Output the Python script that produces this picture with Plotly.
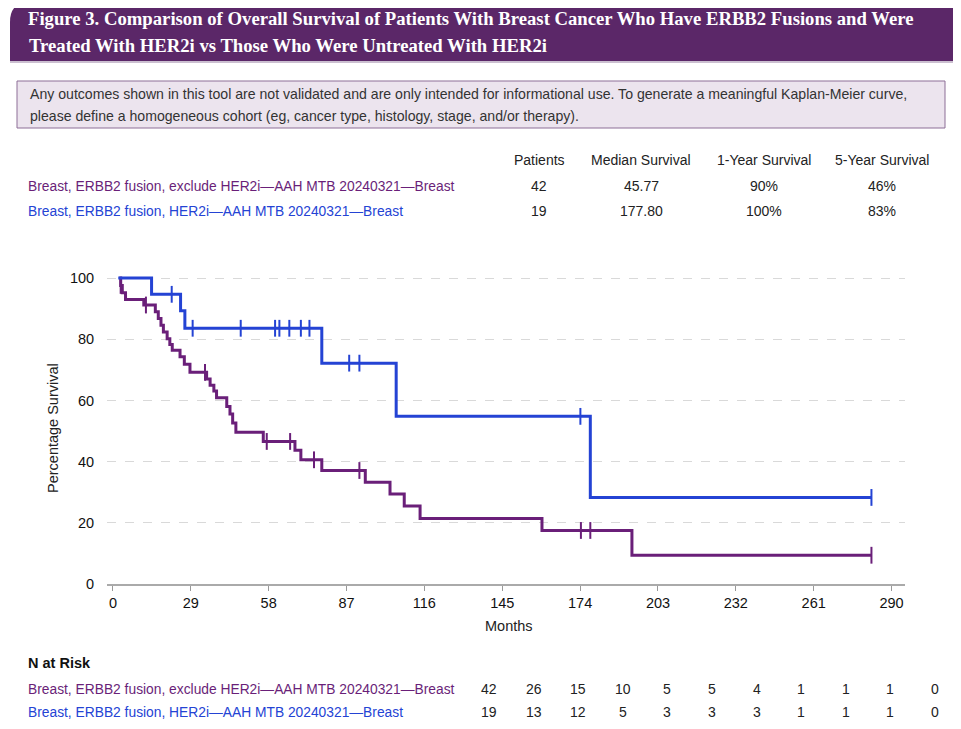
"""Figure 3 - KM overall survival, ERBB2 fusion breast cancer, HER2i vs no HER2i (plotly)"""
import plotly.graph_objects as go

# page body keeps an 8px margin, so the figure is a bit smaller than the window
W, H = 961, 729
PAD = 8
FW, FH = W - 2 * PAD, H - 2 * PAD

# ---- data ----
MONTH_TICKS = [0, 29, 58, 87, 116, 145, 174, 203, 232, 261, 290]
Y_TICKS = [0, 20, 40, 60, 80, 100]

NO_HER2I = "Breast, ERBB2 fusion, exclude HER2i\u2014AAH MTB 20240321\u2014Breast"
HER2I = "Breast, ERBB2 fusion, HER2i\u2014AAH MTB 20240321\u2014Breast"

STAT_HEADERS = ["Patients", "Median Survival", "1-Year Survival", "5-Year Survival"]
stats_no_her2i = ["42", "45.77", "90%", "46%"]
stats_her2i = ["19", "177.80", "100%", "83%"]

risk_no_her2i = [42, 26, 15, 10, 5, 5, 4, 1, 1, 1, 0]
risk_her2i = [19, 13, 12, 5, 3, 3, 3, 1, 1, 1, 0]

# step curves: time of each drop (months) and survival (%) after it
no_her2i_t = [2.4, 2.9, 3.5, 4.7, 11.5, 15.8, 16.9, 17.9, 18.8, 20.2, 21.2, 22.1,
              25.0, 26.6, 28.7, 34.9, 36.2, 37.6, 38.6, 42.4, 43.6, 44.6, 45.8,
              56.0, 67.8, 70.0, 77.8, 94.0, 103.2, 108.5, 114.4, 159.8, 193.3, 282.5]
no_her2i_s = [100, 97.6, 95.2, 93.0, 91.2, 89.0, 86.8, 84.6, 82.4, 80.2, 78.3, 76.4,
              74.3, 71.8, 69.2, 67.0, 65.0, 63.1, 60.9, 58.0, 55.6, 52.6, 49.6,
              46.6, 43.7, 40.6, 37.1, 33.3, 29.4, 25.5, 21.4, 17.5, 9.4, 9.4]
no_her2i_cens_t = [2.9, 12.3, 34.3, 57.3, 66.0, 74.9, 91.8, 174.3, 177.8, 282.5]
no_her2i_cens_s = [97.6, 91.2, 69.2, 46.6, 46.6, 40.6, 37.1, 17.5, 17.5, 9.4]

her2i_t = [2.0, 14.4, 25.2, 26.8, 77.8, 105.5, 177.8, 282.5]
her2i_s = [100, 94.7, 89.3, 83.6, 72.2, 54.8, 28.3, 28.3]
her2i_cens_t = [21.9, 29.7, 47.6, 60.4, 62.0, 65.7, 70.0, 73.2, 88.0, 91.8, 174.1, 282.5]
her2i_cens_s = [94.7, 83.6, 83.6, 83.6, 83.6, 83.6, 83.6, 83.6, 72.2, 72.2, 54.8, 28.3]

PURPLE = "#6a1f79"
BLUE = "#2443d4"
BANNER = "#5b2768"
SANS = "Liberation Sans, Arial, sans-serif"
SERIF = "Liberation Serif, DejaVu Serif, serif"


# window pixel -> paper coordinate
def px(x):
    return (x - PAD) / FW


def py(y):
    return 1 - (y - PAD) / FH


def label(x, y, s, size=14, color="#222", xanchor="left", family=SANS):
    return dict(x=px(x), y=py(y), xref="paper", yref="paper", text=s,
                showarrow=False, xanchor=xanchor, yanchor="middle",
                font=dict(family=family, size=size, color=color))


fig = go.Figure()

for t, s, ct, cs, color, name in [
    (no_her2i_t, no_her2i_s, no_her2i_cens_t, no_her2i_cens_s, PURPLE, NO_HER2I),
    (her2i_t, her2i_s, her2i_cens_t, her2i_cens_s, BLUE, HER2I),
]:
    fig.add_trace(go.Scatter(x=t, y=s, mode="lines", line=dict(color=color, width=3, shape="hv"),
                             name=name, hoverinfo="skip"))
    fig.add_trace(go.Scatter(x=ct, y=cs, mode="markers", name=name + " (censored)",
                             marker=dict(symbol="line-ns", size=12, line=dict(width=2, color=color)),
                             hoverinfo="skip"))

annotations = []

# title banner text
annotations.append(label(26, 19, "<b>Figure 3. Comparison of Overall Survival of Patients With Breast Cancer "
                                 "Who Have ERBB2 Fusions and Were</b>", size=18.7, color="white", family=SERIF))
annotations.append(label(27, 45, "<b>Treated With HER2i vs Those Who Were Untreated With HER2i</b>",
                         size=18.7, color="white", family=SERIF))

# disclaimer
annotations.append(label(28, 94, "Any outcomes shown in this tool are not validated and are only intended for "
                                 "informational use. To generate a meaningful Kaplan-Meier curve,",
                         size=14.1, color="#333"))
annotations.append(label(28, 116, "please define a homogeneous cohort (eg, cancer type, histology, stage, "
                                  "and/or therapy).", size=14.1, color="#333"))

# stats table
col_x = [539, 641, 764, 882]
for cx, head, a, b in zip(col_x, STAT_HEADERS, stats_no_her2i, stats_her2i):
    annotations.append(label(cx, 160, head, xanchor="center"))
    annotations.append(label(cx, 186, a, xanchor="center"))
    annotations.append(label(cx, 211, b, xanchor="center"))
annotations.append(label(26, 186, NO_HER2I, size=13.8, color=PURPLE))
annotations.append(label(26, 211, HER2I, size=13.8, color=BLUE))

# axis titles
annotations.append(label(509, 626, "Months", size=14.5, xanchor="center"))
annotations.append(dict(x=px(53), y=py(428), xref="paper", yref="paper", text="Percentage Survival",
                        showarrow=False, textangle=-90, xanchor="center", yanchor="middle",
                        font=dict(family=SANS, size=14.5, color="#222")))

# N at risk
annotations.append(label(26, 663, "<b>N at Risk</b>", size=14.5, color="#111"))
annotations.append(label(26, 689, NO_HER2I, size=13.8, color=PURPLE))
annotations.append(label(26, 712, HER2I, size=13.8, color=BLUE))
for i, (a, b) in enumerate(zip(risk_no_her2i, risk_her2i)):
    cx = 489 + i * 44.6
    annotations.append(label(cx, 689, str(a), xanchor="center"))
    annotations.append(label(cx, 712, str(b), xanchor="center"))

banner_path = (f"M {px(10)},{py(61)} L {px(10)},{py(22)} Q {px(10)},{py(2)} {px(30)},{py(2)} "
               f"L {px(961)},{py(2)} L {px(961)},{py(61)} Z")

shapes = [
    dict(type="path", path=banner_path, xref="paper", yref="paper",
         fillcolor=BANNER, line=dict(width=0), layer="below"),
    dict(type="line", x0=px(10), x1=px(961), y0=py(62), y1=py(62), xref="paper", yref="paper",
         line=dict(color="#cbbfd0", width=2)),
    dict(type="rect", x0=px(17), x1=px(945), y0=py(81), y1=py(128), xref="paper", yref="paper",
         fillcolor="#ece4ee", line=dict(color="#8d6f97", width=1), layer="below"),
]

fig.update_layout(
    width=FW,
    height=FH,
    margin=dict(l=0, r=0, t=0, b=0),
    paper_bgcolor="white",
    plot_bgcolor="white",
    showlegend=False,
    font=dict(family=SANS, size=14, color="#222"),
    annotations=annotations,
    shapes=shapes,
    xaxis=dict(
        domain=[px(107), px(905)],
        range=[-2.2, 295],
        tickvals=MONTH_TICKS,
        ticks="outside",
        ticklen=5,
        tickcolor="#999",
        showline=True,
        linecolor="#aaa",
        linewidth=1.5,
        showgrid=False,
        zeroline=False,
        tickfont=dict(size=14.5, color="#111"),
        automargin=False,
    ),
    yaxis=dict(
        domain=[py(584), py(268)],
        range=[0, 103.3],
        tickvals=Y_TICKS,
        ticks="outside",
        ticklen=9,
        tickcolor="rgba(0,0,0,0)",
        showline=False,
        showgrid=True,
        gridcolor="#d9d9d9",
        griddash="dash",
        gridwidth=1,
        zeroline=False,
        tickfont=dict(size=14.5, color="#111"),
        automargin=False,
    ),
)

fig.write_html("out.html")
